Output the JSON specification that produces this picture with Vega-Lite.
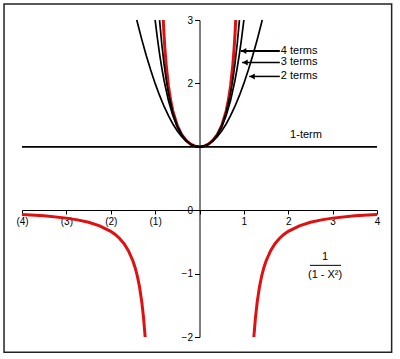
{
  "$schema": "https://vega.github.io/schema/vega-lite/v6.json",
  "width": 355,
  "height": 317,
  "autosize": "none",
  "padding": {"left": 22, "top": 20, "right": 23, "bottom": 22},
  "background": "white",
  "config": {"view": {"stroke": null}, "font": "Liberation Sans"},
  "datasets": {
    "red": [
      {"seg": "L", "x": -4, "y": -0.0667}, {"seg": "L", "x": -3.5, "y": -0.0889}, {"seg": "L", "x": -3, "y": -0.125},
      {"seg": "L", "x": -2.75, "y": -0.1524}, {"seg": "L", "x": -2.5, "y": -0.1905}, {"seg": "L", "x": -2.25, "y": -0.2462},
      {"seg": "L", "x": -2, "y": -0.3333}, {"seg": "L", "x": -1.9, "y": -0.3831}, {"seg": "L", "x": -1.8, "y": -0.4464},
      {"seg": "L", "x": -1.7, "y": -0.5291}, {"seg": "L", "x": -1.6, "y": -0.641}, {"seg": "L", "x": -1.5, "y": -0.8},
      {"seg": "L", "x": -1.45, "y": -0.907}, {"seg": "L", "x": -1.4, "y": -1.0417}, {"seg": "L", "x": -1.35, "y": -1.2158},
      {"seg": "L", "x": -1.3, "y": -1.4493}, {"seg": "L", "x": -1.26, "y": -1.7018}, {"seg": "L", "x": -1.2247, "y": -2},
      {"seg": "M", "x": -0.8165, "y": 3}, {"seg": "M", "x": -0.8, "y": 2.7778}, {"seg": "M", "x": -0.78, "y": 2.5536},
      {"seg": "M", "x": -0.75, "y": 2.2857}, {"seg": "M", "x": -0.7, "y": 1.9608}, {"seg": "M", "x": -0.65, "y": 1.7316},
      {"seg": "M", "x": -0.6, "y": 1.5625}, {"seg": "M", "x": -0.5, "y": 1.3333}, {"seg": "M", "x": -0.4, "y": 1.1905},
      {"seg": "M", "x": -0.3, "y": 1.0989}, {"seg": "M", "x": -0.2, "y": 1.0417}, {"seg": "M", "x": -0.1, "y": 1.0101},
      {"seg": "M", "x": 0, "y": 1},
      {"seg": "M", "x": 0.1, "y": 1.0101}, {"seg": "M", "x": 0.2, "y": 1.0417}, {"seg": "M", "x": 0.3, "y": 1.0989},
      {"seg": "M", "x": 0.4, "y": 1.1905}, {"seg": "M", "x": 0.5, "y": 1.3333}, {"seg": "M", "x": 0.6, "y": 1.5625},
      {"seg": "M", "x": 0.65, "y": 1.7316}, {"seg": "M", "x": 0.7, "y": 1.9608}, {"seg": "M", "x": 0.75, "y": 2.2857},
      {"seg": "M", "x": 0.78, "y": 2.5536}, {"seg": "M", "x": 0.8, "y": 2.7778}, {"seg": "M", "x": 0.8165, "y": 3},
      {"seg": "R", "x": 1.2247, "y": -2}, {"seg": "R", "x": 1.26, "y": -1.7018}, {"seg": "R", "x": 1.3, "y": -1.4493},
      {"seg": "R", "x": 1.35, "y": -1.2158}, {"seg": "R", "x": 1.4, "y": -1.0417}, {"seg": "R", "x": 1.45, "y": -0.907},
      {"seg": "R", "x": 1.5, "y": -0.8}, {"seg": "R", "x": 1.6, "y": -0.641}, {"seg": "R", "x": 1.7, "y": -0.5291},
      {"seg": "R", "x": 1.8, "y": -0.4464}, {"seg": "R", "x": 1.9, "y": -0.3831}, {"seg": "R", "x": 2, "y": -0.3333},
      {"seg": "R", "x": 2.25, "y": -0.2462}, {"seg": "R", "x": 2.5, "y": -0.1905}, {"seg": "R", "x": 2.75, "y": -0.1524},
      {"seg": "R", "x": 3, "y": -0.125}, {"seg": "R", "x": 3.5, "y": -0.0889}, {"seg": "R", "x": 4, "y": -0.0667}
    ],
    "approx": [
      {"series": "1-term", "x": -4, "y": 1}, {"series": "1-term", "x": 4, "y": 1},
      {"series": "2 terms", "x": -1.4142, "y": 3}, {"series": "2 terms", "x": -1.3, "y": 2.69}, {"series": "2 terms", "x": -1.2, "y": 2.44},
      {"series": "2 terms", "x": -1.1, "y": 2.21}, {"series": "2 terms", "x": -1, "y": 2}, {"series": "2 terms", "x": -0.9, "y": 1.81},
      {"series": "2 terms", "x": -0.8, "y": 1.64}, {"series": "2 terms", "x": -0.7, "y": 1.49}, {"series": "2 terms", "x": -0.6, "y": 1.36},
      {"series": "2 terms", "x": -0.5, "y": 1.25}, {"series": "2 terms", "x": -0.4, "y": 1.16}, {"series": "2 terms", "x": -0.3, "y": 1.09},
      {"series": "2 terms", "x": -0.2, "y": 1.04}, {"series": "2 terms", "x": -0.1, "y": 1.01}, {"series": "2 terms", "x": 0, "y": 1},
      {"series": "2 terms", "x": 0.1, "y": 1.01}, {"series": "2 terms", "x": 0.2, "y": 1.04}, {"series": "2 terms", "x": 0.3, "y": 1.09},
      {"series": "2 terms", "x": 0.4, "y": 1.16}, {"series": "2 terms", "x": 0.5, "y": 1.25}, {"series": "2 terms", "x": 0.6, "y": 1.36},
      {"series": "2 terms", "x": 0.7, "y": 1.49}, {"series": "2 terms", "x": 0.8, "y": 1.64}, {"series": "2 terms", "x": 0.9, "y": 1.81},
      {"series": "2 terms", "x": 1, "y": 2}, {"series": "2 terms", "x": 1.1, "y": 2.21}, {"series": "2 terms", "x": 1.2, "y": 2.44},
      {"series": "2 terms", "x": 1.3, "y": 2.69}, {"series": "2 terms", "x": 1.4142, "y": 3},
      {"series": "3 terms", "x": -1, "y": 3}, {"series": "3 terms", "x": -0.95, "y": 2.717}, {"series": "3 terms", "x": -0.9, "y": 2.4661},
      {"series": "3 terms", "x": -0.85, "y": 2.2445}, {"series": "3 terms", "x": -0.8, "y": 2.0496}, {"series": "3 terms", "x": -0.7, "y": 1.7301},
      {"series": "3 terms", "x": -0.6, "y": 1.4896}, {"series": "3 terms", "x": -0.5, "y": 1.3125}, {"series": "3 terms", "x": -0.4, "y": 1.1856},
      {"series": "3 terms", "x": -0.3, "y": 1.0981}, {"series": "3 terms", "x": -0.2, "y": 1.0416}, {"series": "3 terms", "x": -0.1, "y": 1.0101},
      {"series": "3 terms", "x": 0, "y": 1},
      {"series": "3 terms", "x": 0.1, "y": 1.0101}, {"series": "3 terms", "x": 0.2, "y": 1.0416}, {"series": "3 terms", "x": 0.3, "y": 1.0981},
      {"series": "3 terms", "x": 0.4, "y": 1.1856}, {"series": "3 terms", "x": 0.5, "y": 1.3125}, {"series": "3 terms", "x": 0.6, "y": 1.4896},
      {"series": "3 terms", "x": 0.7, "y": 1.7301}, {"series": "3 terms", "x": 0.8, "y": 2.0496}, {"series": "3 terms", "x": 0.85, "y": 2.2445},
      {"series": "3 terms", "x": 0.9, "y": 2.4661}, {"series": "3 terms", "x": 0.95, "y": 2.717}, {"series": "3 terms", "x": 1, "y": 3},
      {"series": "4 terms", "x": -0.9, "y": 2.9975}, {"series": "4 terms", "x": -0.85, "y": 2.6216}, {"series": "4 terms", "x": -0.8, "y": 2.3117},
      {"series": "4 terms", "x": -0.75, "y": 2.0569}, {"series": "4 terms", "x": -0.7, "y": 1.8477}, {"series": "4 terms", "x": -0.6, "y": 1.5363},
      {"series": "4 terms", "x": -0.5, "y": 1.3281}, {"series": "4 terms", "x": -0.4, "y": 1.1897}, {"series": "4 terms", "x": -0.3, "y": 1.0988},
      {"series": "4 terms", "x": -0.2, "y": 1.0417}, {"series": "4 terms", "x": -0.1, "y": 1.0101}, {"series": "4 terms", "x": 0, "y": 1},
      {"series": "4 terms", "x": 0.1, "y": 1.0101}, {"series": "4 terms", "x": 0.2, "y": 1.0417}, {"series": "4 terms", "x": 0.3, "y": 1.0988},
      {"series": "4 terms", "x": 0.4, "y": 1.1897}, {"series": "4 terms", "x": 0.5, "y": 1.3281}, {"series": "4 terms", "x": 0.6, "y": 1.5363},
      {"series": "4 terms", "x": 0.7, "y": 1.8477}, {"series": "4 terms", "x": 0.75, "y": 2.0569}, {"series": "4 terms", "x": 0.8, "y": 2.3117},
      {"series": "4 terms", "x": 0.85, "y": 2.6216}, {"series": "4 terms", "x": 0.9, "y": 2.9975}
    ],
    "labels": [
      {"text": "4 terms", "x": 1.81, "y": 2.51, "tip": 0.93, "w": 2},
      {"text": "3 terms", "x": 1.81, "y": 2.33, "tip": 0.96, "w": 1.5},
      {"text": "2 terms", "x": 1.81, "y": 2.11, "tip": 1.12, "w": 1.5}
    ]
  },
  "layer": [
    {
      "data": {"values": [{"x0": -4.405, "x1": 4.33, "y0": -2.24, "y1": 3.253}]},
      "mark": {"type": "rect", "fill": null, "stroke": "#222222", "strokeWidth": 1.5},
      "encoding": {
        "x": {"field": "x0", "type": "quantitative", "scale": {"domain": [-4, 4], "nice": false, "zero": false}},
        "x2": {"field": "x1"},
        "y": {"field": "y0", "type": "quantitative", "scale": {"domain": [-2, 3], "nice": false, "zero": false}},
        "y2": {"field": "y1"}
      }
    },
    {
      "data": {"name": "red"},
      "mark": {"type": "line", "color": "#e01010", "strokeWidth": 3},
      "encoding": {
        "x": {"field": "x", "type": "quantitative",
          "axis": {"title": null, "offset": -127, "values": [-4, -3, -2, -1, 0, 1, 2, 3, 4], "grid": false, "format": "d",
            "labelExpr": "datum.value == 0 ? '' : (datum.value < 0 ? '(' + abs(datum.value) + ')' : datum.label)",
            "domainColor": "black", "tickColor": "black", "tickSize": 4, "labelColor": "black", "labelFontSize": 10,
            "labelPadding": 2, "labelFont": "Liberation Sans", "labelFlush": false}},
        "y": {"field": "y", "type": "quantitative",
          "axis": {"title": null, "offset": -177.5, "values": [-2, -1, 0, 1, 2, 3], "grid": false, "format": "d",
            "labelExpr": "datum.value == 1 ? '' : datum.label",
            "domainColor": "black", "tickColor": "black", "tickSize": 5, "labelColor": "black", "labelFontSize": 10,
            "labelPadding": 2, "labelFont": "Liberation Sans", "labelFlush": false}},
        "detail": {"field": "seg"}
      }
    },
    {
      "data": {"name": "approx"},
      "mark": {"type": "line", "color": "black", "strokeWidth": 1.7},
      "encoding": {
        "x": {"field": "x", "type": "quantitative"},
        "y": {"field": "y", "type": "quantitative"},
        "detail": {"field": "series"}
      }
    },
    {
      "data": {"name": "labels"},
      "mark": {"type": "rule", "color": "black"},
      "encoding": {
        "x": {"field": "x", "type": "quantitative"},
        "x2": {"field": "tip"},
        "y": {"field": "y", "type": "quantitative"},
        "strokeWidth": {"field": "w", "type": "quantitative", "scale": null}
      }
    },
    {
      "data": {"name": "labels"},
      "mark": {"type": "point", "shape": "triangle-left", "filled": true, "color": "black", "size": 35, "opacity": 1, "xOffset": 3},
      "encoding": {
        "x": {"field": "tip", "type": "quantitative"},
        "y": {"field": "y", "type": "quantitative"}
      }
    },
    {
      "data": {"name": "labels"},
      "mark": {"type": "text", "align": "left", "baseline": "middle", "fontSize": 11, "font": "Liberation Sans", "color": "black", "dx": 1},
      "encoding": {
        "x": {"field": "x", "type": "quantitative"},
        "y": {"field": "y", "type": "quantitative"},
        "text": {"field": "text"}
      }
    },
    {
      "data": {"values": [{"text": "1-term", "x": 2.4, "y": 1.18}, {"text": "1", "x": 2.83, "y": -0.74}, {"text": "(1 - X²)", "x": 2.83, "y": -1.02}]},
      "mark": {"type": "text", "align": "center", "baseline": "middle", "fontSize": 11, "font": "Liberation Sans", "color": "black"},
      "encoding": {
        "x": {"field": "x", "type": "quantitative"},
        "y": {"field": "y", "type": "quantitative"},
        "text": {"field": "text"}
      }
    },
    {
      "data": {"values": [{"x": 2.49, "x2": 3.19, "y": -0.87}]},
      "mark": {"type": "rule", "color": "black", "strokeWidth": 1},
      "encoding": {
        "x": {"field": "x", "type": "quantitative"},
        "x2": {"field": "x2"},
        "y": {"field": "y", "type": "quantitative"}
      }
    }
  ]
}
